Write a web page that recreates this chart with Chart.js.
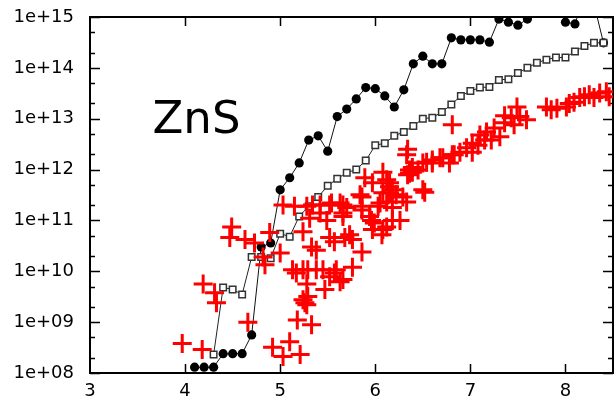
<!DOCTYPE html>
<html>
<head>
<meta charset="utf-8">
<script src="https://cdn.jsdelivr.net/npm/chart.js@4.4.1/dist/chart.umd.min.js"></script>
<style>
  html, body { margin: 0; padding: 0; background: #fff; }
  #wrap { width: 616px; height: 403px; }
</style>
</head>
<body>
<div id="wrap"><canvas id="znsChart" width="616" height="403"></canvas></div>
<script>
// axis ticks
const xTicks = [3, 4, 5, 6, 7, 8];
const yDecades = [1e8, 1e9, 1e10, 1e11, 1e12, 1e13, 1e14, 1e15];
const yMinors = [2, 5];

// filled black circles (points above 1e15 are cut off by the frame)
const circleX = [4.1, 4.2, 4.3, 4.4, 4.5, 4.6, 4.7, 4.8, 4.9, 5.0, 5.1, 5.2, 5.3, 5.4, 5.5,
  5.6, 5.7, 5.8, 5.9, 6.0, 6.1, 6.2, 6.3, 6.4, 6.5, 6.6, 6.7, 6.8, 6.9, 7.0, 7.1, 7.2,
  7.3, 7.4, 7.5, 7.6, 7.7, 7.8, 7.9, 8.0, 8.1, 8.2, 8.3, 8.4];
const circleY = [1.3e8, 1.3e8, 1.3e8, 2.4e8, 2.4e8, 2.4e8, 5.6e8, 3.0e10, 3.6e10, 4.0e11,
  6.9e11, 1.35e12, 3.8e12, 4.6e12, 2.3e12, 1.1e13, 1.55e13, 2.45e13, 4.1e13, 3.9e13,
  2.8e13, 1.7e13, 3.7e13, 1.2e14, 1.7e14, 1.2e14, 1.2e14, 3.9e14, 3.55e14, 3.55e14,
  3.55e14, 3.2e14, 9.1e14, 7.9e14, 6.9e14, 9.1e14, 1.6e15, 2e15, 2e15, 7.9e14, 7.3e14,
  2.5e15, 1.8e15, 3.1e14];

// open squares
const squareX = [4.3, 4.4, 4.5, 4.6, 4.7, 4.8, 4.9, 5.0, 5.1, 5.2, 5.3, 5.4, 5.5, 5.6,
  5.7, 5.8, 5.9, 6.0, 6.1, 6.2, 6.3, 6.4, 6.5, 6.6, 6.7, 6.8, 6.9, 7.0, 7.1, 7.2, 7.3,
  7.4, 7.5, 7.6, 7.7, 7.8, 7.9, 8.0, 8.1, 8.2, 8.3, 8.4];
const squareY = [2.3e8, 4.8e9, 4.4e9, 3.5e9, 1.9e10, 1.9e10, 1.8e10, 5.5e10, 4.8e10,
  1.2e11, 1.9e11, 2.9e11, 4.8e11, 6.6e11, 8.7e11, 1.0e12, 1.5e12, 3.0e12, 3.3e12, 4.6e12,
  5.5e12, 7.2e12, 1.0e13, 1.05e13, 1.35e13, 1.9e13, 2.8e13, 3.5e13, 4.1e13, 4.2e13,
  5.8e13, 6.0e13, 7.9e13, 1.0e14, 1.26e14, 1.45e14, 1.6e14, 1.6e14, 2.1e14, 2.7e14,
  3.1e14, 3.1e14];

// red crosses
const crossX = [3.97, 4.18, 4.19, 4.31, 4.33, 4.49, 4.47, 4.63, 4.73, 4.66, 4.82, 4.89,
  4.84, 5.00, 4.92, 5.03, 5.10, 5.21, 5.03, 5.15, 5.28, 5.31, 5.24, 5.33, 5.24, 5.13,
  5.45, 5.52, 5.28, 5.24, 5.18, 5.33, 5.47, 5.57, 5.42, 5.52, 5.49, 5.57, 5.66, 5.68,
  5.26, 5.29, 5.28, 5.17, 5.29, 5.38, 5.59, 5.66, 5.76, 5.38, 5.52, 5.73, 5.86, 5.76,
  5.34, 5.42, 5.54, 5.63, 5.70, 5.66, 5.86, 5.84, 5.94, 5.99, 6.07, 6.12, 6.18, 6.26,
  6.18, 6.03, 5.97, 6.15, 6.22, 6.33, 6.12, 6.15, 6.34, 6.39, 6.08, 5.89, 5.63, 5.66,
  5.86, 5.96, 5.97, 6.08, 6.08, 6.15, 5.86, 6.05, 6.36, 6.50, 6.39, 6.50, 6.60, 6.68,
  6.81, 6.89, 7.02, 6.33, 6.34, 6.12, 6.18, 6.29, 6.36, 6.45, 6.52, 6.54, 6.60, 6.71,
  6.78, 6.83, 6.96, 7.02, 7.10, 7.17, 7.25, 7.22, 7.31, 7.36, 7.43, 7.49, 7.52, 7.59,
  6.81, 7.80, 7.85, 7.91, 8.04, 8.09, 8.15, 8.20, 8.25, 8.30, 8.36, 8.43, 8.46, 8.01,
  7.46, 7.36, 7.08, 7.15];
const crossY = [3.8e8, 2.9e8, 5.6e9, 3.8e9, 2.4e9, 7.4e10, 4.6e10, 4.2e10, 3.6e10, 1.0e9,
  1.9e10, 5.8e10, 1.35e10, 2.3e10, 3.2e8, 2.0e11, 4.1e8, 2.3e8, 2.1e8, 1.9e11, 1.9e11,
  1.1e11, 6.0e10, 3.0e10, 1.07e10, 1.07e10, 1.07e10, 7.8e9, 2.2e9, 2.75e9, 1.1e9, 8.9e8,
  4.4e9, 9.3e9, 2.0e11, 2.0e11, 1.0e11, 3.8e10, 2.0e11, 4.6e10, 2.4e9, 3.2e9, 5.6e9,
  9.3e9, 1.07e10, 1.07e10, 1.07e10, 6.9e9, 1.2e10, 2.6e10, 4.6e10, 5.2e10, 2.4e10,
  4.2e10, 2.0e11, 1.4e11, 2.2e11, 2.2e11, 1.8e11, 1.4e11, 1.9e11, 3.2e11, 1.2e11, 8.9e10,
  5.2e10, 7.4e10, 1.0e11, 1.0e11, 1.8e11, 1.9e11, 5.5e11, 5.5e11, 3.2e11, 2.3e11, 2.3e11,
  3.5e11, 7.9e11, 8.9e11, 8.9e11, 6.9e11, 6.2e9, 1.2e11, 1.6e11, 1.0e11, 6.6e10, 6.6e10,
  3.5e11, 4.6e11, 2.9e11, 2.2e11, 8.5e11, 4.0e11, 1.1e12, 1.35e12, 1.35e12, 1.7e12,
  1.95e12, 2.2e12, 2.2e12, 1.95e12, 2.5e12, 6.3e11, 4.0e11, 2.9e11, 9.8e11, 9.8e11,
  3.6e11, 1.4e12, 1.55e12, 1.7e12, 1.35e12, 1.95e12, 2.7e12, 3.3e12, 4.8e12, 5.5e12,
  6.6e12, 3.8e12, 4.4e12, 8.3e12, 1.05e13, 1.7e13, 1.1e13, 9.5e12, 7.6e12, 1.7e13,
  1.5e13, 1.6e13, 2.0e13, 2.1e13, 2.6e13, 2.7e13, 2.95e13, 2.6e13, 3.2e13, 3.4e13,
  2.7e13, 1.7e13, 7.6e12, 1.15e13, 3.0e12, 3.8e12];

const labelText = 'ZnS';
const labelPos = { x: 4.12, y: 5.2e12 };

const FONT = 'DejaVu Sans';

function toPoints(xs, ys) {
  return xs.map((x, i) => ({ x: x, y: ys[i] }));
}

function expLabel(v) {
  const e = Math.round(Math.log10(v));
  return '1e+' + String(e).padStart(2, '0');
}

// frame + gnuplot style inward ticks, and the text label
const frameTicks = {
  id: 'frameTicks',
  beforeDatasetsDraw(chart) {
    const { ctx, chartArea: a, scales } = chart;
    const xs = scales.x, ys = scales.y;
    ctx.save();
    ctx.strokeStyle = '#000';
    ctx.lineWidth = 1.5;
    ctx.beginPath();
    xTicks.forEach(v => {
      const px = Math.round(xs.getPixelForValue(v)) + 0.5;
      if (px <= a.left + 2) return;
      ctx.moveTo(px, a.bottom); ctx.lineTo(px, a.bottom - 9);
      ctx.moveTo(px, a.top); ctx.lineTo(px, a.top + 9);
    });
    yDecades.forEach(v => {
      const py = Math.round(ys.getPixelForValue(v)) + 0.5;
      ctx.moveTo(a.left, py); ctx.lineTo(a.left + 10, py);
      ctx.moveTo(a.right, py); ctx.lineTo(a.right - 10, py);
      yMinors.forEach(m => {
        const mv = v * m;
        if (mv > 1e15) return;
        const my = Math.round(ys.getPixelForValue(mv)) + 0.5;
        ctx.moveTo(a.left, my); ctx.lineTo(a.left + 5, my);
        ctx.moveTo(a.right, my); ctx.lineTo(a.right - 5, my);
      });
    });
    ctx.stroke();
    ctx.lineWidth = 2;
    ctx.strokeRect(a.left, a.top, a.right - a.left, a.bottom - a.top);
    ctx.restore();
  },
  afterDatasetsDraw(chart) {
    const { ctx, scales } = chart;
    ctx.save();
    ctx.fillStyle = '#000';
    ctx.font = '45px "' + FONT + '"';
    ctx.textAlign = 'center';
    ctx.textBaseline = 'alphabetic';
    ctx.fillText(labelText, scales.x.getPixelForValue(labelPos.x), scales.y.getPixelForValue(labelPos.y));
    ctx.restore();
  }
};

const ctx = document.getElementById('znsChart').getContext('2d');
new Chart(ctx, {
  type: 'scatter',
  data: {
    datasets: [
      {
        label: 'crosses',
        data: toPoints(crossX, crossY),
        pointStyle: 'cross',
        pointRadius: 9.5,
        borderColor: '#ff0000',
        backgroundColor: '#ff0000',
        pointBorderWidth: 3,
        showLine: false,
        clip: 0
      },
      {
        label: 'squares',
        data: toPoints(squareX, squareY),
        showLine: true,
        borderColor: '#222',
        borderWidth: 1,
        pointStyle: 'rect',
        pointRadius: 4.6,
        pointBackgroundColor: '#fff',
        pointBorderColor: '#333',
        pointBorderWidth: 1.5,
        clip: 0
      },
      {
        label: 'circles',
        data: toPoints(circleX, circleY),
        showLine: true,
        borderColor: '#111',
        borderWidth: 1,
        pointStyle: 'circle',
        pointRadius: 4.6,
        pointBackgroundColor: '#000',
        pointBorderColor: '#000',
        pointBorderWidth: 0,
        clip: 0
      }
    ]
  },
  options: {
    responsive: false,
    animation: false,
    layout: { autoPadding: false, padding: { top: 17, right: 3, left: 0, bottom: 0 } },
    plugins: {
      legend: { display: false },
      tooltip: { enabled: false }
    },
    scales: {
      x: {
        type: 'linear',
        min: 3,
        max: 8.5,
        grid: { display: false, drawTicks: false },
        border: { display: false },
        afterBuildTicks: s => { s.ticks = xTicks.map(v => ({ value: v })); },
        afterFit: s => { s.height = 30; s.paddingLeft = 0; s.paddingRight = 0; },
        ticks: {
          padding: 8,
          color: '#000',
          font: { family: FONT, size: 18 },
          maxRotation: 0,
          callback: v => String(v)
        }
      },
      y: {
        type: 'logarithmic',
        min: 1e8,
        max: 1e15,
        grid: { display: false, drawTicks: false },
        border: { display: false },
        afterBuildTicks: s => { s.ticks = yDecades.map(v => ({ value: v })); },
        afterFit: s => { s.width = 90; s.paddingTop = 0; s.paddingBottom = 0; },
        ticks: {
          padding: 16,
          color: '#000',
          font: { family: FONT, size: 18 },
          callback: v => expLabel(v)
        }
      }
    }
  },
  plugins: [frameTicks]
});
</script>
</body>
</html>
